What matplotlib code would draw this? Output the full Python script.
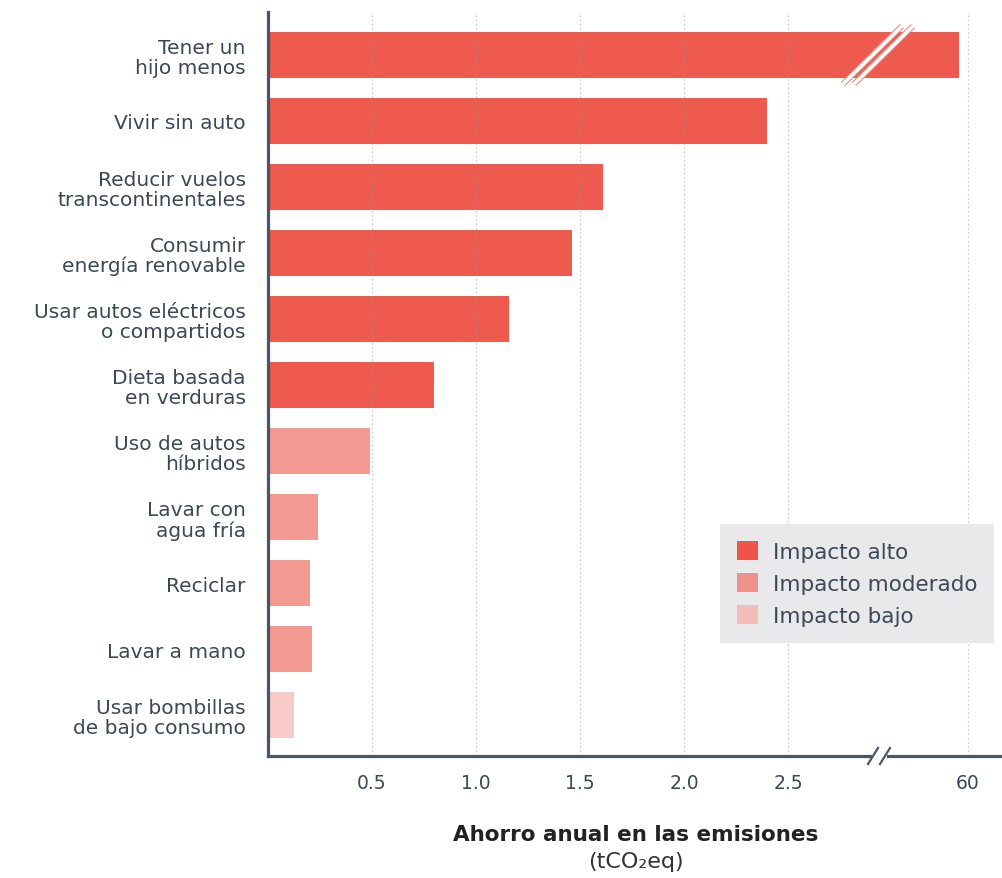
import numpy as np
import matplotlib
matplotlib.use("Agg")
import matplotlib.pyplot as plt
from matplotlib.patches import Patch
import matplotlib.patheffects as pe

plt.rcParams['font.family'] = ['DejaVu Sans']

# ---- data ----
categories = [
    "Tener un\nhijo menos",
    "Vivir sin auto",
    "Reducir vuelos\ntranscontinentales",
    "Consumir\nenergía renovable",
    "Usar autos eléctricos\no compartidos",
    "Dieta basada\nen verduras",
    "Uso de autos\nhíbridos",
    "Lavar con\nagua fría",
    "Reciclar",
    "Lavar a mano",
    "Usar bombillas\nde bajo consumo",
]
values = [58.6, 2.40, 1.61, 1.46, 1.16, 0.80, 0.49, 0.24, 0.20, 0.21, 0.125]
impact = ["alto", "alto", "alto", "alto", "alto", "alto",
          "moderado", "moderado", "moderado", "moderado", "bajo"]
impact_labels = ["Impacto alto", "Impacto moderado", "Impacto bajo"]
tick_values = [0.5, 1.0, 1.5, 2.0, 2.5, 60]
tick_labels = ["0.5", "1.0", "1.5", "2.0", "2.5", "60"]

colors = {"alto": "#EE5A4D", "moderado": "#F39A92", "bajo": "#F9CBC8"}
legend_colors = ["#EE5548", "#F0908A", "#F3BDBA"]
text_color = "#3c4857"

# broken-axis scale (compresses the gap between 2.9 and 55)
xp = [0.0, 2.9, 55.0, 100.0]
fp = [0.0, 2.9, 3.2115, 3.2115 + 45 * 0.0307]
fwd = lambda v: np.interp(v, xp, fp)
inv = lambda p: np.interp(p, fp, xp)

fig = plt.figure(figsize=(10.03, 8.79), dpi=100)
W, H = 1003, 879
ax_l, ax_r, ax_t, ax_b = 268, 1003, 13, 757
ax = fig.add_axes([ax_l / W, (H - ax_b) / H, (ax_r - ax_l) / W, (ax_b - ax_t) / H])
ax.set_xscale('function', functions=(fwd, inv))

y = np.arange(len(categories))
ax.barh(y, values, height=0.70, color=[colors[i] for i in impact], zorder=1)

ax.set_xlim(0, 65.5)
ax.set_ylim(len(categories) - 1 + 0.62, -0.65)

ax.set_xticks(tick_values)
ax.set_xticklabels(tick_labels)
ax.set_yticks(y)
ax.set_yticklabels(categories)
ax.xaxis.set_minor_locator(matplotlib.ticker.NullLocator())

ax.tick_params(axis='both', length=0, colors=text_color)
ax.tick_params(axis='x', pad=12, labelsize=13.5)
ax.tick_params(axis='y', pad=16, labelsize=14.5)
for lab in ax.get_yticklabels():
    lab.set_multialignment('right')
    lab.set_linespacing(1.08)

ax.grid(axis='x', color='#8f99a5', alpha=0.55, linestyle=(0, (1.2, 2.2)), linewidth=0.9, zorder=2)
ax.grid(axis='y', visible=False)
ax.set_axisbelow(False)

for s in ['top', 'right']:
    ax.spines[s].set_visible(False)
for s in ['left', 'bottom']:
    ax.spines[s].set_color('#4b5563')
    ax.spines[s].set_linewidth(2.3)
    ax.spines[s].set_zorder(3)

# helper: pixel -> axes fraction
def afx(px):
    return (px - ax_l) / (ax_r - ax_l)

def afy(py):
    return (ax_b - py) / (ax_b - ax_t)

# slash marks on the top bar
for x0, x1 in [(843, 902), (854, 913)]:
    ax.plot([afx(x0), afx(x1)], [afy(85), afy(27)], transform=ax.transAxes,
            color='white', lw=2.6, solid_capstyle='butt', zorder=4, clip_on=False,
            path_effects=[pe.Stroke(linewidth=4.2, foreground='#F08A80'), pe.Normal()])

# axis break mark
ax.plot([afx(872), afx(887)], [afy(757), afy(757)], transform=ax.transAxes,
        color='white', lw=4, zorder=5, clip_on=False, solid_capstyle='butt')
for xc in [873, 885]:
    ax.plot([afx(xc - 5), afx(xc + 5)], [afy(765), afy(749)], transform=ax.transAxes,
            color='#4b5563', lw=1.6, zorder=6, clip_on=False)

# legend
handles = [Patch(facecolor=c, edgecolor='none') for c in legend_colors]
leg = ax.legend(handles, impact_labels, loc='upper left',
                bbox_to_anchor=(afx(720), afy(525)), bbox_transform=ax.transAxes,
                frameon=True, fancybox=False, facecolor='#e9e9eb', edgecolor='none',
                framealpha=1, fontsize=15.5, handlelength=0.95, handleheight=0.95,
                handletextpad=0.7, labelspacing=0.52, borderpad=0.8, borderaxespad=0)
for t in leg.get_texts():
    t.set_color(text_color)
leg.set_zorder(7)

# x-axis title
cx = (ax_l + ax_r) / 2 / W
fig.text(cx, 1 - 835 / H, "Ahorro anual en las emisiones", ha='center', va='center',
         fontsize=15.5, fontweight='bold', color='#222222')
fig.text(cx, 1 - 862 / H, "(tCO₂eq)", ha='center', va='center',
         fontsize=16, color='#333333')

fig.savefig("out.png", dpi=100)
